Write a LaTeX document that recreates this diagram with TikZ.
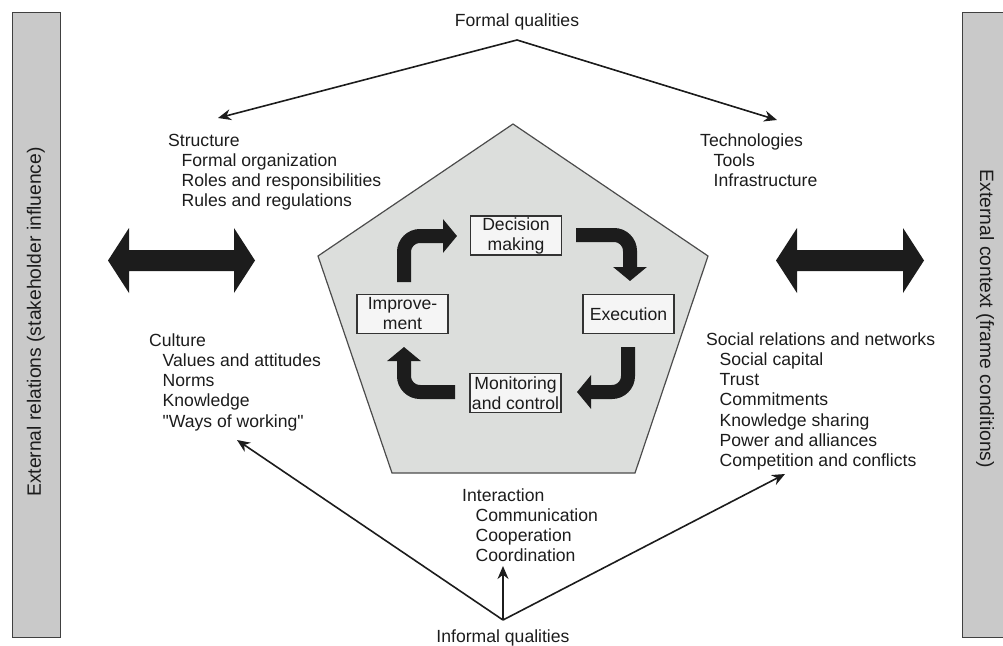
\documentclass[tikz,border=0pt]{standalone}
\usepackage{fontspec}
\setmainfont{Liberation Sans}
\usetikzlibrary{arrows.meta}
\definecolor{pent}{HTML}{DCDEDC}
\definecolor{barg}{HTML}{C9C9C9}
\definecolor{boxg}{HTML}{F5F5F5}
\definecolor{ink}{HTML}{1C1C1C}
\newcommand{\ind}{\hspace*{13.5pt}}
\begin{document}
\begin{tikzpicture}[x=1pt,y=-1pt,
  txt/.style={font=\fontsize{17.6}{20.3}\selectfont, inner sep=0pt, align=left, anchor=base west, text=ink},
  ctxt/.style={font=\fontsize{17.6}{20.3}\selectfont, inner sep=0pt, anchor=base, text=ink},
  cbox/.style={draw=black!80, line width=1.3pt, fill=boxg, minimum width=91pt, minimum height=39pt, inner sep=0pt, align=center, font=\fontsize{17.6}{20}\selectfont, text=ink},
  thinarrow/.style={line width=1.6pt, draw=ink, -{Stealth[length=13pt,width=11pt]}},
  cyc/.style={line width=14pt, draw=ink, rounded corners=16pt, -{Triangle[length=14pt,width=33pt]}},
  sidebar/.style={draw=black!75, line width=1pt, fill=barg},
  bartext/.style={font=\fontsize{19.3}{22}\selectfont, inner sep=0pt, text=ink}]
\useasboundingbox (0,0) rectangle (1003,645);

% side bars
\draw[sidebar] (12,12) rectangle (60,637);
\node[bartext, rotate=90] (lbar) at (36,322) {External relations (stakeholder influence)};
\draw[sidebar] (962,12) rectangle (1010,637);
\node[bartext, rotate=-90] (rbar) at (985,319) {External context (frame conditions)};

% double arrows
\fill[ink] (108,260.5) -- (129,228) -- (129,250) -- (234,250) -- (234,228) -- (255,260.5)
  -- (234,293) -- (234,271) -- (129,271) -- (129,293) -- cycle;
\fill[ink] (776,260.5) -- (797,228) -- (797,250) -- (903,250) -- (903,228) -- (924,260.5)
  -- (903,293) -- (903,271) -- (797,271) -- (797,293) -- cycle;

% pentagon
\draw[fill=pent, draw=black!70, line width=1.2pt]
  (513,124) -- (708,256) -- (635,473) -- (392,473) -- (318,256) -- cycle;

% cycle boxes
\node[cbox] (dec) at (516,235.5) {Decision\\making};
\node[cbox] (exe) at (628.5,314) {Execution};
\node[cbox] (mon) at (515.5,393) {Monitoring\\and control};
\node[cbox] (imp) at (402.5,314) {Improve-\\ment};

% cycle arrows
\draw[cyc] (404,282) -- (404,236) -- (457,236);
\draw[cyc] (576,235) -- (630,235) -- (630,281);
\draw[cyc] (628,347) -- (628,392) -- (577,392);
\draw[cyc] (455,392) -- (404,392) -- (404,347);

% texts (base anchor = baseline of last line)
\node[ctxt] (formal) at (517,26) {Formal qualities};
\node[ctxt] (informal) at (503,642) {Informal qualities};
\node[txt] (struct) at (168,206.9) {Structure\\\ind Formal organization\\\ind Roles and responsibilities\\\ind Rules and regulations};
\node[txt] (tech) at (700,186.6) {Technologies\\\ind Tools\\\ind Infrastructure};
\node[txt] (cult) at (149,427.2) {Culture\\\ind Values and attitudes\\\ind Norms\\\ind Knowledge\\\ind \textquotedbl Ways of working\textquotedbl};
\node[txt] (soc) at (706,466.8) {Social relations and networks\\\ind Social capital\\\ind Trust\\\ind Commitments\\\ind Knowledge sharing\\\ind Power and alliances\\\ind Competition and conflicts};
\node[txt] (inter) at (462,561.9) {Interaction\\\ind Communication\\\ind Cooperation\\\ind Coordination};

% connectors
\coordinate (ftop) at (517,40);
\coordinate (fl) at (218,118);
\coordinate (fr) at (777,120);
\coordinate (ibot) at (503,620);
\coordinate (il) at (237,440);
\coordinate (iu) at (503,566);
\coordinate (ir) at (785,474);
\draw[thinarrow] (ftop) -- (fl);
\draw[thinarrow] (ftop) -- (fr);
\draw[thinarrow] (ibot) -- (il);
\draw[thinarrow] (ibot) -- (iu);
\draw[thinarrow] (ibot) -- (ir);
\end{tikzpicture}
\end{document}
